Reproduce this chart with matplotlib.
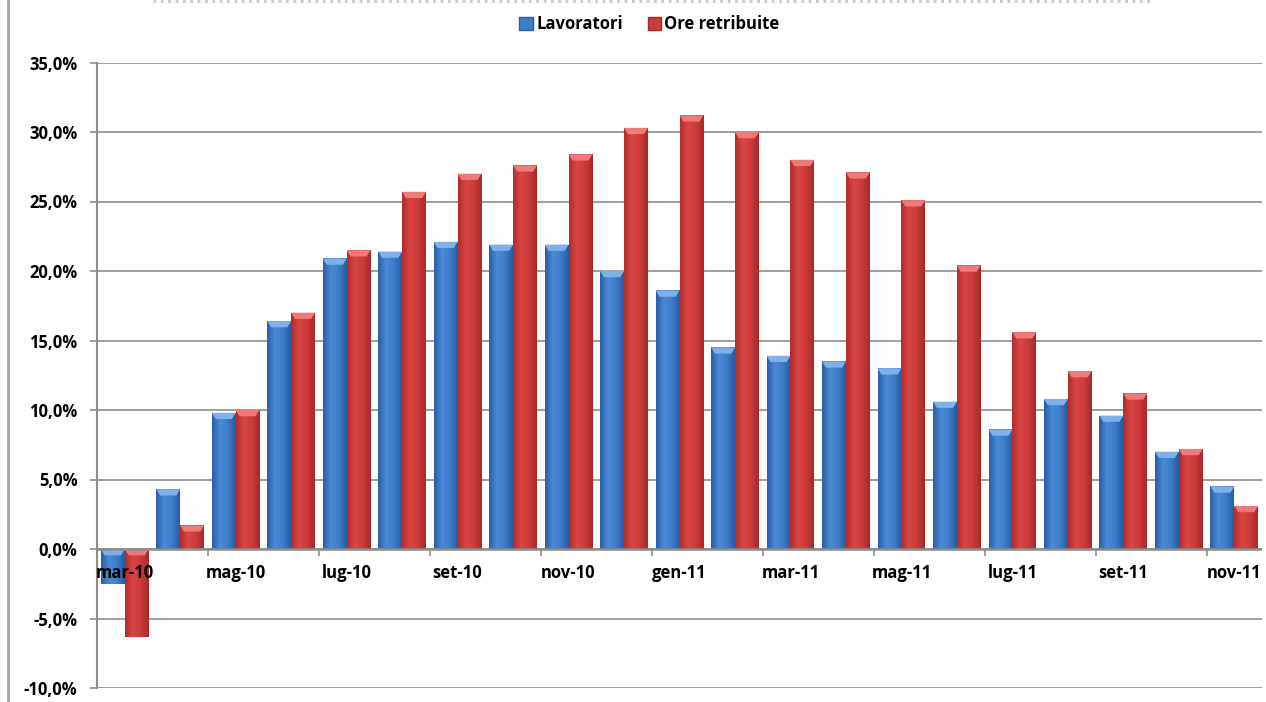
import numpy as np
import matplotlib
matplotlib.use("Agg")
import matplotlib.pyplot as plt
from matplotlib.lines import Line2D
from matplotlib.patches import Patch
from matplotlib.colors import LinearSegmentedColormap

months = ["mar-10", "apr-10", "mag-10", "giu-10", "lug-10", "ago-10", "set-10",
          "ott-10", "nov-10", "dic-10", "gen-11", "feb-11", "mar-11", "apr-11",
          "mag-11", "giu-11", "lug-11", "ago-11", "set-11", "ott-11", "nov-11"]
lavoratori = [-2.5, 4.3, 9.8, 16.4, 20.9, 21.4, 22.1, 21.9, 21.9, 20.0, 18.6,
              14.5, 13.9, 13.5, 13.0, 10.6, 8.6, 10.8, 9.6, 7.0, 4.5]
ore = [-6.3, 1.7, 10.0, 17.0, 21.5, 25.7, 27.0, 27.6, 28.4, 30.3, 31.2,
       30.0, 28.0, 27.1, 25.1, 20.4, 15.6, 12.8, 11.2, 7.2, 3.1]
yticks = [-10, -5, 0, 5, 10, 15, 20, 25, 30, 35]

plt.rcParams['font.family'] = ['Open Sans', 'DejaVu Sans']
FS = 12
fig = plt.figure(figsize=(12.66, 7.02), dpi=100)
ax = fig.add_axes([97/1266, 1-688/702, (1262-97)/1266, (688-62.5)/702])

x = np.arange(len(months))
w = 0.43
blue_cmap = LinearSegmentedColormap.from_list("b", ["#2b5ea6", "#4a8ad6", "#3d7cc9", "#2a5a9e"])
red_cmap = LinearSegmentedColormap.from_list("r", ["#b02d2d", "#d94545", "#cc3b3b", "#a52a2a"])
grad = np.linspace(0, 1, 64).reshape(1, -1)

def draw(vals, offset, cmap, base, cap):
    bars = ax.bar(x + offset, vals, width=w, color=base, edgecolor="none", zorder=3)
    for b, v in zip(bars, vals):
        x0 = b.get_x(); x1 = x0 + b.get_width()
        y0, y1 = min(0, v), max(0, v)
        im = ax.imshow(grad, cmap=cmap, extent=[x0, x1, y0, y1], aspect='auto',
                       zorder=3.5, interpolation='bilinear')
        im.set_clip_path(b)
        capy = y1 - 0.45
        ax.fill([x0, x1, x1 - 0.07, x0 + 0.07], [y1, y1, capy, capy],
                color=cap, zorder=4, lw=0)
    return bars

draw(lavoratori, -w/2, blue_cmap, "#3d7cc9", "#7fb0ea")
draw(ore, w/2, red_cmap, "#cc3b3b", "#f07a7a")

ax.set_xlim(-0.5, len(months) - 0.5)
ax.set_ylim(-10, 35)
ax.set_yticks(yticks)
ax.set_yticklabels([f"{t:.1f}%".replace(".", ",") for t in yticks],
                   fontsize=FS, fontweight='bold')
ax.set_xticks([])
ax.grid(axis='y', color='#8c8c8c', lw=1.2, zorder=0)
ax.set_axisbelow(True)
for s in ['top', 'right', 'bottom']:
    ax.spines[s].set_visible(False)
ax.spines['left'].set_color('#8c8c8c')
ax.spines['left'].set_linewidth(1.5)
ax.tick_params(axis='y', length=5, color='#8c8c8c', width=1.2, pad=9)
ax.axhline(0, color='#8c8c8c', lw=1.8, zorder=5)
for b in np.arange(1.5, len(months) - 1, 2):
    ax.plot([b, b], [0, -0.4], color='#8c8c8c', lw=1.2, zorder=5)

for i in range(0, len(months), 2):
    ax.annotate(months[i], (i, 0), xytext=(0, -17.5), textcoords='offset points',
                ha='center', va='center', fontsize=FS, fontweight='bold', zorder=6)

handles = [Patch(facecolor="#3d7cc9", edgecolor="#2b5ea6"),
           Patch(facecolor="#cc3b3b", edgecolor="#a52a2a")]
fig.legend(handles, ["Lavoratori", "Ore retribuite"], loc='center',
           bbox_to_anchor=(0.513, 1-24/702), ncol=2, frameon=False,
           prop={'weight': 'bold', 'size': FS}, handlelength=0.8, handleheight=0.8,
           handletextpad=0.2, columnspacing=1.5)

fig.add_artist(Line2D([8/1266, 8/1266], [0, 1], color='#a6a6a6', lw=2,
                      transform=fig.transFigure))
fig.add_artist(Line2D([153/1266, 1150/1266], [0.998, 0.998], color='#c8c8c8',
                      lw=2, ls=':', transform=fig.transFigure))

fig.savefig("out.png", dpi=100)
